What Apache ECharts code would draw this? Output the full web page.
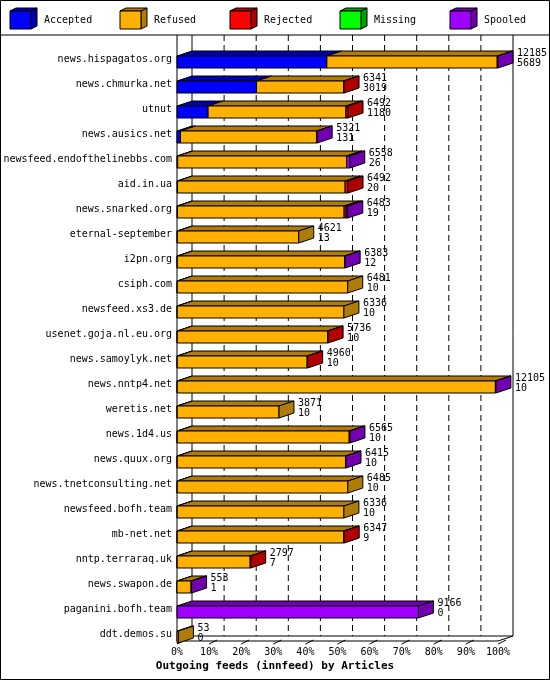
<!DOCTYPE html>
<html>
<head>
<meta charset="utf-8">
<script src="https://cdn.jsdelivr.net/npm/echarts@6/dist/echarts.min.js"></script>
<style>html,body{margin:0;padding:0;background:#fff}#c{width:550px;height:680px}</style>
</head>
<body>
<div id="c"></div>
<script>
// feeds, top to bottom
var feeds = ['news.hispagatos.org', 'news.chmurka.net', 'utnut', 'news.ausics.net',
  'newsfeed.endofthelinebbs.com', 'aid.in.ua', 'news.snarked.org', 'eternal-september',
  'i2pn.org', 'csiph.com', 'newsfeed.xs3.de', 'usenet.goja.nl.eu.org', 'news.samoylyk.net',
  'news.nntp4.net', 'weretis.net', 'news.1d4.us', 'news.quux.org', 'news.tnetconsulting.net',
  'newsfeed.bofh.team', 'mb-net.net', 'nntp.terraraq.uk', 'news.swapon.de',
  'paganini.bofh.team', 'ddt.demos.su'];
var offered  = [12185, 6341, 6492, 5321, 6558, 6492, 6483, 4621, 6383, 6481, 6336, 5736, 4960,
  12105, 3871, 6565, 6415, 6485, 6336, 6347, 2797, 553, 9166, 53];
var accepted = [5689, 3019, 1180, 131, 26, 20, 19, 13, 12, 10, 10, 10, 10,
  10, 10, 10, 10, 10, 10, 9, 7, 1, 0, 0];
var rejected = [0, 20, 80, 0, 0, 110, 80, 0, 0, 0, 0, 20, 20,
  0, 0, 0, 0, 0, 0, 20, 20, 0, 0, 0];
var missing  = [0, 0, 0, 0, 0, 0, 0, 0, 0, 0, 0, 0, 0,
  0, 0, 0, 0, 0, 0, 0, 0, 0, 0, 0];
var spooled  = [30, 0, 0, 20, 120, 0, 60, 0, 20, 0, 0, 0, 0,
  20, 0, 30, 20, 0, 0, 0, 0, 20, 9166, 0];
var refused  = offered.map(function (t, i) {
  return t - accepted[i] - rejected[i] - missing[i] - spooled[i];
});
var names = ['Accepted', 'Refused', 'Rejected', 'Missing', 'Spooled'];
var fronts = ['#0000ff', '#ffb000', '#ff0000', '#00ff00', '#a000ff'];
var darks  = ['#0000b0', '#b07c08', '#b00000', '#00a000', '#7000b0'];
var pctTicks = [0, 10, 20, 30, 40, 50, 60, 70, 80, 90, 100];

var DX = 15, DY = 5;
var FONT = '10px "DejaVu Sans Mono"';
var maxVal = Math.max.apply(null, offered);

var data = feeds.map(function (f, i) {
  return [i, accepted[i], refused[i], rejected[i], missing[i], spooled[i], offered[i]];
});

function renderBar(params, api) {
  var i = api.value(0);
  var base = api.coord([0, i]);
  var c = base[1];
  var yt = c - 3, yb = c + 9;
  var kids = [];
  var cum = 0, last = 1;
  var x0 = base[0], x1 = x0;
  for (var s = 0; s < 5; s++) {
    var v = api.value(1 + s);
    if (v <= 0) continue;
    var a = api.coord([cum, i])[0];
    cum += v;
    var b = api.coord([cum, i])[0];
    last = s;
    x1 = b;
    kids.push({ type: 'polygon', shape: { points: [[a, yt], [b, yt], [b + DX, yt - DY], [a + DX, yt - DY]] },
      style: { fill: darks[s], stroke: '#000', lineWidth: 1 } });
    kids.push({ type: 'rect', shape: { x: a, y: yt, width: b - a, height: yb - yt },
      style: { fill: fronts[s], stroke: '#000', lineWidth: 1 } });
  }
  kids.push({ type: 'polygon', shape: { points: [[x1, yt], [x1 + DX, yt - DY], [x1 + DX, yb - DY], [x1, yb]] },
    style: { fill: darks[last], stroke: '#000', lineWidth: 1 } });
  kids.push({ type: 'text', x: x1 + DX + 4, y: c - 6,
    style: { text: String(api.value(6)), font: FONT, fill: '#000', verticalAlign: 'middle' } });
  kids.push({ type: 'text', x: x1 + DX + 4, y: c + 4,
    style: { text: String(api.value(1)), font: FONT, fill: '#000', verticalAlign: 'middle' } });
  return { type: 'group', children: kids };
}

// frame, walls, grid, floor and legend
var FX = 177, FW = 321, FLOOR = 641, TOP = 35;
var g = [];
g.push({ type: 'rect', shape: { x: 0.5, y: 0.5, width: 549, height: 679 }, style: { fill: null, stroke: '#000' }, z: -1 });
g.push({ type: 'line', shape: { x1: 0, y1: TOP, x2: 550, y2: TOP }, style: { stroke: '#000' } });
names.forEach(function (n, k) {
  var lx = 10 + k * 110;
  g.push({ type: 'polygon', shape: { points: [[lx + 21, 29], [lx + 21, 11], [lx + 27, 8], [lx + 27, 26]] }, style: { fill: darks[k], stroke: '#000' } });
  g.push({ type: 'polygon', shape: { points: [[lx, 11], [lx + 6, 8], [lx + 27, 8], [lx + 21, 11]] }, style: { fill: darks[k], stroke: '#000' } });
  g.push({ type: 'rect', shape: { x: lx, y: 11, width: 21, height: 18 }, style: { fill: fronts[k], stroke: '#000' } });
  g.push({ type: 'text', x: lx + 34, y: 20, style: { text: n, font: FONT, fill: '#000', verticalAlign: 'middle' } });
});
pctTicks.forEach(function (p) {
  var x = FX + p * FW / 100;
  if (p > 0 && p < 100) {
    g.push({ type: 'line', shape: { x1: x + DX, y1: TOP, x2: x + DX, y2: FLOOR - DY }, style: { stroke: '#000', lineDash: [6, 4] }, z: -1 });
  }
  g.push({ type: 'line', shape: { x1: x, y1: FLOOR + 3, x2: x + 8, y2: FLOOR - 1 }, style: { stroke: '#000' } });
  g.push({ type: 'text', x: x, y: 652, style: { text: p + '%', font: FONT, fill: '#000', align: 'center', verticalAlign: 'middle' } });
});
g.push({ type: 'line', shape: { x1: FX, y1: TOP, x2: FX, y2: FLOOR }, style: { stroke: '#000' } });
g.push({ type: 'line', shape: { x1: FX + DX, y1: TOP, x2: FX + DX, y2: FLOOR - DY }, style: { stroke: '#000' }, z: -1 });
g.push({ type: 'line', shape: { x1: FX + FW + DX, y1: TOP, x2: FX + FW + DX, y2: FLOOR - DY }, style: { stroke: '#000' }, z: -1 });
g.push({ type: 'polyline', shape: { points: [[FX, FLOOR], [FX + FW, FLOOR], [FX + FW + DX, FLOOR - DY], [FX + DX, FLOOR - DY], [FX, FLOOR]] }, style: { stroke: '#000', fill: null } });
g.push({ type: 'text', x: 275, y: 666, style: { text: 'Outgoing feeds (innfeed) by Articles', font: 'bold 11px "DejaVu Sans Mono"', fill: '#000', align: 'center', verticalAlign: 'middle' } });

var chart = echarts.init(document.getElementById('c'), null, { renderer: 'canvas' });
chart.setOption({
  animation: false,
  backgroundColor: '#fff',
  grid: { left: FX, width: FW, top: 46.5, height: 600 },
  xAxis: { type: 'value', min: 0, max: maxVal, show: false },
  yAxis: {
    type: 'category', data: feeds, inverse: true,
    axisLine: { show: false }, axisTick: { show: false },
    axisLabel: { fontFamily: 'DejaVu Sans Mono', fontSize: 10, color: '#000', margin: 5 }
  },
  graphic: g,
  series: [{ type: 'custom', renderItem: renderBar, data: data, encode: { x: 6, y: 0 }, z: 5 }]
});
</script>
</body>
</html>
